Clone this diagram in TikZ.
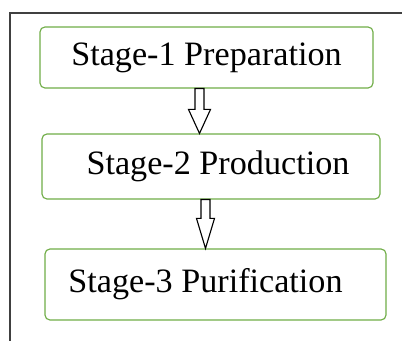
\documentclass[tikz,border=0pt]{standalone}
\usepackage{fontspec}
\setmainfont{Liberation Serif}
\usetikzlibrary{calc}

\definecolor{stagegreen}{RGB}{112,173,71}
\definecolor{framegray}{RGB}{64,64,64}

\tikzset{
  stage/.style={draw=stagegreen, line width=0.8pt, rounded corners=3.5pt,
    fill=white, inner sep=0pt, font=\fontsize{24.3}{29}\selectfont},
  hollowarrow/.style={draw=black, line width=0.8pt, fill=white, line join=miter}
}

% block arrow: from node, to node, x centre, head half width, head length
\newcommand{\stagearrow}[5]{%
\draw[hollowarrow] let \p1=(#1.south), \p2=(#2.north) in
  ({#3cm-0.1125cm},\y1) -- ({#3cm-0.1125cm},{\y2+#5cm})
  -- ({#3cm-#4cm},{\y2+#5cm}) -- (#3cm,\y2)
  -- ({#3cm+#4cm},{\y2+#5cm}) -- ({#3cm+0.1125cm},{\y2+#5cm})
  -- ({#3cm+0.1125cm},\y1) -- cycle;}

\begin{document}
\begin{tikzpicture}

\useasboundingbox (0,0) rectangle (10.05,8.525);

\begin{scope}[line width=1.4pt, draw=framegray]
\draw (0.25,0) -- (0.25,8.2) -- (10.05,8.2);
\end{scope}

\begin{scope}[stage]
\node[stage, minimum width=8.325cm, minimum height=1.525cm] (s1) at (5.1625,7.0875) {Stage-1 Preparation};
\node[stage, minimum width=8.45cm, minimum height=1.625cm] (s2) at (5.275,4.3625) {\hspace*{0.35cm}Stage-2 Production};
\node[stage, minimum width=8.525cm, minimum height=1.775cm] (s3) at (5.3875,1.4125) {Stage-3 Purification\hspace*{0.5cm}};
\end{scope}

\stagearrow{s1}{s2}{4.9875}{0.275}{0.6}
\stagearrow{s2}{s3}{5.1375}{0.225}{0.75}

\end{tikzpicture}
\end{document}
